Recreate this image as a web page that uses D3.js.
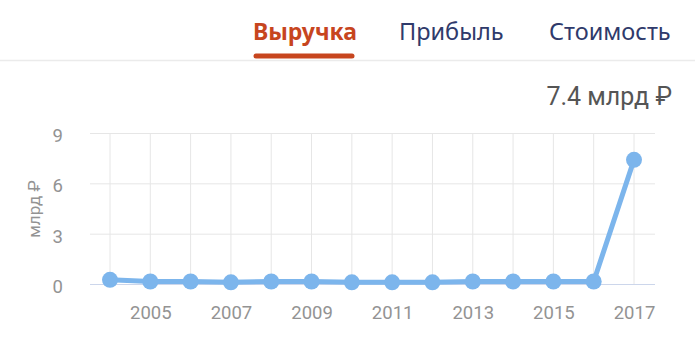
<!DOCTYPE html>
<html>
<head>
<meta charset="utf-8">
<script src="https://cdn.jsdelivr.net/npm/d3@7"></script>
<style>
  html, body { margin: 0; padding: 0; background: #fff; }
  svg { display: block; }
</style>
</head>
<body>
<svg id="chart" width="700" height="358"></svg>
<script>
// Revenue by year, billion rubles
const years = [2004, 2005, 2006, 2007, 2008, 2009, 2010, 2011, 2012, 2013, 2014, 2015, 2016, 2017];
const revenue = [0.25, 0.15, 0.15, 0.1, 0.15, 0.15, 0.1, 0.1, 0.1, 0.15, 0.15, 0.15, 0.15, 7.4];
const yTicks = [0, 3, 6, 9];
const xTickYears = [2005, 2007, 2009, 2011, 2013, 2015, 2017];
const tabs = ["Выручка", "Прибыль", "Стоимость"];
const unitLabel = "млрд ₽";

const svg = d3.select("#chart");
const font = "Roboto, 'Noto Sans', sans-serif";

// Tabs header
const tabX = [253, 399, 549];
const tabG = svg.append("g");
tabs.forEach((t, i) => {
  tabG.append("text")
    .attr("x", tabX[i]).attr("y", 40)
    .attr("font-family", "'Noto Sans', Roboto, sans-serif")
    .attr("font-size", i === 0 ? 23 : 23.5)
    .attr("font-weight", i === 0 ? 700 : 400)
    .attr("fill", i === 0 ? "#c7451e" : "#2f3a6b")
    .text(t);
});
svg.append("line")
  .attr("x1", 0).attr("x2", 695).attr("y1", 60.5).attr("y2", 60.5)
  .attr("stroke", "#ebebeb").attr("stroke-width", 1.5);
svg.append("line")
  .attr("x1", 256).attr("x2", 352).attr("y1", 56).attr("y2", 56)
  .attr("stroke", "#c7451e").attr("stroke-width", 5).attr("stroke-linecap", "round");

// Current value
svg.append("text")
  .attr("x", 672).attr("y", 105)
  .attr("text-anchor", "end")
  .attr("font-family", font).attr("font-size", 25)
  .attr("fill", "#555")
  .text(revenue[revenue.length - 1].toFixed(1) + " " + unitLabel);

// Scales
const x = d3.scaleLinear().domain([2004, 2017]).range([110, 634]);
const y = d3.scaleLinear().domain([0, 9]).range([284, 133]);
const plotLeft = 90, plotRight = 655;

// Grid
svg.append("g").selectAll("line").data(years).join("line")
  .attr("x1", d => x(d)).attr("x2", d => x(d))
  .attr("y1", 133).attr("y2", 284)
  .attr("stroke", "#e6e6e6").attr("stroke-width", 1);
svg.append("g").selectAll("line").data(yTicks).join("line")
  .attr("x1", plotLeft).attr("x2", plotRight)
  .attr("y1", d => y(d) + 0.5).attr("y2", d => y(d) + 0.5)
  .attr("stroke", d => d === 0 ? "#ccd6eb" : "#e6e6e6").attr("stroke-width", 1);

// Axes (labels only)
const yAxis = d3.axisLeft(y).tickValues(yTicks).tickSize(0).tickPadding(0);
const gy = svg.append("g").attr("transform", "translate(63,2)").call(yAxis);
gy.select(".domain").remove();
gy.selectAll("text").attr("font-family", font).attr("font-size", 18.5).attr("fill", "#939393").attr("dy", "0.35em");

const xAxis = d3.axisBottom(x).tickValues(xTickYears).tickFormat(d3.format("d")).tickSize(0).tickPadding(0);
const gx = svg.append("g").attr("transform", "translate(0,306)").call(xAxis);
gx.select(".domain").remove();
gx.selectAll("text").attr("font-family", font).attr("font-size", 18.5).attr("fill", "#939393").attr("dy", "0.71em");

// Y-axis title
svg.append("text")
  .attr("transform", "translate(40,209) rotate(-90)")
  .attr("text-anchor", "middle")
  .attr("font-family", font).attr("font-size", 17)
  .attr("fill", "#939393")
  .text(unitLabel);

// Series
const pts = years.map((yr, i) => [yr, revenue[i]]);
svg.append("path")
  .datum(pts)
  .attr("fill", "none")
  .attr("stroke", "#7cb5ec")
  .attr("stroke-width", 5)
  .attr("stroke-linejoin", "round")
  .attr("d", d3.line().x(d => x(d[0])).y(d => y(d[1])));
svg.append("g").selectAll("circle").data(pts).join("circle")
  .attr("cx", d => x(d[0])).attr("cy", d => y(d[1]))
  .attr("r", 8)
  .attr("fill", "#7cb5ec");
</script>
</body>
</html>
